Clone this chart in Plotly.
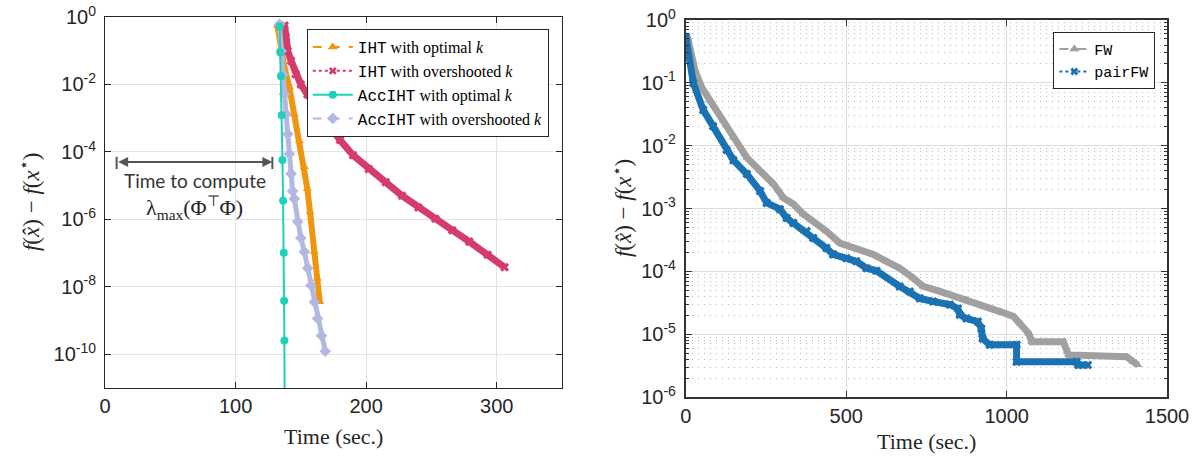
import plotly.graph_objects as go

# ---------------- data ----------------
# Left panel: time (sec.) and log10 of f(x_hat) - f(x*)
iht_opt_time = [132.0, 134.9, 137.4, 141.2, 145.0, 148.9, 152.7, 155.0, 157.0, 160.3, 162.6, 164.5]
iht_opt_log10 = [-0.25, -0.90, -1.49, -2.08, -2.88, -3.68, -4.45, -5.10, -5.78, -6.96, -7.76, -8.45]

iht_over_time = [137.5, 138.5, 140.0, 142.5, 146.0, 150.0, 155.0, 160.0, 166.0, 173.0, 180.0,
                 190.0, 202.0, 215.0, 227.5, 240.0, 253.0, 266.0, 279.0, 293.0, 306.0]
iht_over_log10 = [-0.25, -0.60, -1.00, -1.30, -1.70, -2.00, -2.30, -2.58, -2.95, -3.27, -3.65,
                  -4.10, -4.51, -4.90, -5.30, -5.65, -5.98, -6.32, -6.66, -7.05, -7.42]

acc_opt_time = [133.8, 134.3, 134.8, 135.3, 135.9, 136.4, 136.9, 137.2, 137.4, 137.6]
acc_opt_log10 = [-0.28, -1.05, -1.76, -2.91, -4.24, -5.45, -6.99, -8.41, -9.59, -12.0]

acc_over_time = [133.6, 134.9, 136.1, 137.4, 138.7, 140.0, 141.2, 142.5, 143.7, 145.0,
                 147.6, 150.0, 152.7, 155.3, 157.8, 160.3, 162.8, 165.8, 168.7]
acc_over_log10 = [-0.22, -1.01, -1.70, -2.29, -2.88, -3.47, -4.06, -4.65, -5.16, -5.39,
                  -6.07, -6.55, -6.96, -7.45, -7.96, -8.45, -8.94, -9.45, -9.91]

# "Time to compute lambda_max" interval (sec.)
lam_interval = [8.9, 128.2]

# Right panel
fw_time = [0, 6, 28, 49, 75, 117, 148, 190, 231, 273, 304, 335, 366, 397, 438, 480, 521, 584,
           625, 667, 709, 740, 792, 875, 917, 979, 1022, 1044, 1069, 1078, 1177, 1189, 1193,
           1374, 1394, 1409]
fw_log10 = [-0.25, -0.29, -0.80, -1.07, -1.28, -1.60, -1.87, -2.19, -2.40, -2.61, -2.83, -2.93,
            -3.09, -3.20, -3.36, -3.55, -3.63, -3.73, -3.84, -3.95, -4.11, -4.24, -4.32, -4.45,
            -4.53, -4.64, -4.72, -4.83, -4.99, -5.12, -5.12, -5.28, -5.33, -5.36, -5.44, -5.49]

pairfw_time = [0, 23, 54, 85, 127, 148, 190, 231, 252, 293, 314, 335, 376, 397, 438, 459, 500,
               531, 563, 594, 667, 698, 729, 771, 823, 848, 854, 875, 910, 921, 925, 947, 1031,
               1031, 1218, 1223, 1253]
pairfw_log10 = [-0.27, -1.00, -1.43, -1.69, -2.07, -2.23, -2.45, -2.72, -2.91, -3.01, -3.15,
                -3.23, -3.36, -3.47, -3.63, -3.73, -3.79, -3.84, -3.95, -3.99, -4.24, -4.32,
                -4.43, -4.48, -4.53, -4.59, -4.69, -4.75, -4.80, -4.91, -5.07, -5.17, -5.17,
                -5.44, -5.44, -5.49, -5.49]

left_tick_exp = [0, -2, -4, -6, -8, -10]
right_tick_exp = [0, -1, -2, -3, -4, -5, -6]
left_xticks = [0, 100, 200, 300]
right_xticks = [0, 500, 1000, 1500]

# ---------------- styles ----------------
C_ORANGE = "#F0960E"
C_CRIMSON = "#D43C6C"
C_TEAL = "#1FD1BA"
C_LAV = "#B3B8E2"
C_GRAY = "#A0A0A0"
C_BLUE = "#1A72B2"
C_ARROW = "#555555"

SERIF = "Liberation Serif"
SANS = "Liberation Sans"
MONO = "Liberation Mono"


def p10(vals):
    return [10 ** v for v in vals]


def mono(s):
    return "<span style=\"font-family:%s\">%s</span>" % (MONO, s)


fig = go.Figure()

# ---- left panel data bands ----
fig.add_trace(go.Scatter(x=iht_opt_time, y=p10(iht_opt_log10), mode="lines+markers",
                         line=dict(color=C_ORANGE, width=6),
                         marker=dict(symbol="triangle-up", size=8, color=C_ORANGE),
                         showlegend=False, xaxis="x", yaxis="y"))
fig.add_trace(go.Scatter(x=iht_over_time, y=p10(iht_over_log10), mode="lines+markers",
                         line=dict(color=C_CRIMSON, width=7),
                         marker=dict(symbol="x", size=8, color=C_CRIMSON),
                         showlegend=False, xaxis="x", yaxis="y"))
fig.add_trace(go.Scatter(x=acc_over_time, y=p10(acc_over_log10), mode="lines+markers",
                         line=dict(color=C_LAV, width=5),
                         marker=dict(symbol="diamond", size=9, color=C_LAV),
                         showlegend=False, xaxis="x", yaxis="y"))
fig.add_trace(go.Scatter(x=acc_opt_time, y=p10(acc_opt_log10), mode="lines+markers",
                         line=dict(color=C_TEAL, width=2),
                         marker=dict(symbol="circle", size=8, color=C_TEAL),
                         showlegend=False, xaxis="x", yaxis="y", cliponaxis=True))

# ---- left legend entries ----
fig.add_trace(go.Scatter(x=[None], y=[None], mode="lines+markers",
                         name=mono("IHT") + " with optimal <i>k</i>",
                         line=dict(color=C_ORANGE, width=2, dash="dash"),
                         marker=dict(symbol="triangle-up", size=9, color=C_ORANGE),
                         legend="legend", xaxis="x", yaxis="y"))
fig.add_trace(go.Scatter(x=[None], y=[None], mode="lines+markers",
                         name=mono("IHT") + " with overshooted <i>k</i>",
                         line=dict(color=C_CRIMSON, width=2, dash="dot"),
                         marker=dict(symbol="x", size=7, color=C_CRIMSON),
                         legend="legend", xaxis="x", yaxis="y"))
fig.add_trace(go.Scatter(x=[None], y=[None], mode="lines+markers",
                         name=mono("AccIHT") + " with optimal <i>k</i>",
                         line=dict(color=C_TEAL, width=2),
                         marker=dict(symbol="circle", size=8, color=C_TEAL),
                         legend="legend", xaxis="x", yaxis="y"))
fig.add_trace(go.Scatter(x=[None], y=[None], mode="lines+markers",
                         name=mono("AccIHT") + " with overshooted <i>k</i>",
                         line=dict(color=C_LAV, width=2, dash="dash"),
                         marker=dict(symbol="diamond", size=9, color=C_LAV),
                         legend="legend", xaxis="x", yaxis="y"))

# ---- right panel data bands ----
fig.add_trace(go.Scatter(x=fw_time, y=p10(fw_log10), mode="lines+markers",
                         line=dict(color=C_GRAY, width=7),
                         marker=dict(symbol="triangle-up", size=8, color=C_GRAY),
                         showlegend=False, xaxis="x2", yaxis="y2"))
fig.add_trace(go.Scatter(x=pairfw_time, y=p10(pairfw_log10), mode="lines+markers",
                         line=dict(color=C_BLUE, width=7),
                         marker=dict(symbol="x", size=8, color=C_BLUE),
                         showlegend=False, xaxis="x2", yaxis="y2"))
fig.add_trace(go.Scatter(x=[None], y=[None], mode="lines+markers", name=mono("FW"),
                         line=dict(color=C_GRAY, width=2, dash="dashdot"),
                         marker=dict(symbol="triangle-up", size=9, color=C_GRAY),
                         legend="legend2", xaxis="x2", yaxis="y2"))
fig.add_trace(go.Scatter(x=[None], y=[None], mode="lines+markers", name=mono("pairFW"),
                         line=dict(color=C_BLUE, width=2, dash="dot"),
                         marker=dict(symbol="x", size=7, color=C_BLUE),
                         legend="legend2", xaxis="x2", yaxis="y2"))

tick_font = dict(family=SANS, size=20, color="#262626")

minor_vals = []
for e in range(-6, 0):
    for m in range(2, 10):
        minor_vals.append(m * 10 ** e)

fig.update_layout(
    width=1199, height=460,
    margin=dict(l=105, r=32, t=17, b=63, autoexpand=False),
    paper_bgcolor="white", plot_bgcolor="white",
    xaxis=dict(domain=[0, 0.4303], range=[0, 350], tickvals=left_xticks,
               showgrid=True, gridcolor="#E3E3E3", gridwidth=1,
               showline=True, linecolor="#262626", linewidth=1, mirror="ticks",
               ticks="inside", ticklen=6, tickcolor="#262626", automargin=False,
               tickfont=tick_font, zeroline=False, anchor="y"),
    yaxis=dict(domain=[0.0237, 1.0], type="log", range=[-11, 0],
               tickvals=p10(left_tick_exp),
               ticktext=["10<sup>%d</sup>" % e for e in left_tick_exp],
               showgrid=True, gridcolor="#E3E3E3", gridwidth=1,
               showline=True, linecolor="#262626", linewidth=1, mirror="ticks",
               ticks="inside", ticklen=6, tickcolor="#262626", automargin=False,
               tickfont=tick_font, zeroline=False, anchor="x", ticklabelstandoff=4),
    xaxis2=dict(domain=[0.547, 1.0], range=[0, 1500], tickvals=right_xticks,
                showgrid=True, gridcolor="#DCDCDC", gridwidth=1,
                showline=True, linecolor="#333333", linewidth=2, mirror="ticks",
                ticks="inside", ticklen=6, tickcolor="#333333", automargin=False,
                tickfont=tick_font, zeroline=False, anchor="y2"),
    yaxis2=dict(domain=[0, 0.992], type="log", range=[-6, 0],
                tickvals=p10(right_tick_exp),
                ticktext=["10<sup>%d</sup>" % e for e in right_tick_exp],
                showgrid=True, gridcolor="#DCDCDC", gridwidth=1,
                showline=True, linecolor="#333333", linewidth=2, mirror="ticks",
                ticks="inside", ticklen=6, tickcolor="#333333", automargin=False,
                minor=dict(tickvals=minor_vals, ticks="inside", ticklen=3,
                           tickcolor="#333333", showgrid=True, griddash="1px,5px",
                           gridcolor="#BDBDBD", gridwidth=1),
                tickfont=tick_font, zeroline=False, anchor="x2", ticklabelstandoff=4),
    legend=dict(x=0.190, y=0.968, xanchor="left", yanchor="top",
                bgcolor="white", bordercolor="#262626", borderwidth=1,
                font=dict(family=SERIF, size=16, color="black"),
                itemwidth=40, tracegroupgap=0, traceorder="normal"),
    legend2=dict(x=0.893, y=0.961, xanchor="left", yanchor="top",
                 bgcolor="white", bordercolor="#262626", borderwidth=1,
                 font=dict(family=SERIF, size=15, color="black"),
                 itemwidth=30, traceorder="normal"),
)

# small end bars of the double arrow
for xv in lam_interval:
    fig.add_shape(type="line", xref="x", yref="paper", x0=xv, x1=xv, y0=0.600, y1=0.632,
                  line=dict(color=C_ARROW, width=2))

ytitle = "<i>f</i>(<i>x̂</i>) − <i>f</i>(<i>x</i><sup>⋆</sup>)"
annos = [
    dict(text=ytitle, xref="paper", yref="paper", x=-0.0716, y=0.513, textangle=-90,
         xanchor="center", yanchor="middle",
         showarrow=False, font=dict(family=SERIF, size=23, color="#262626")),
    dict(text=ytitle, xref="paper", yref="paper", x=0.4868, y=0.497, textangle=-90,
         xanchor="center", yanchor="middle",
         showarrow=False, font=dict(family=SERIF, size=23, color="#262626")),
    dict(text="Time (sec.)", xref="paper", yref="paper", x=0.2152, y=-0.105,
         xanchor="center", yanchor="middle",
         showarrow=False, font=dict(family=SERIF, size=22, color="#262626")),
    dict(text="Time (sec.)", xref="paper", yref="paper", x=0.7735, y=-0.118,
         xanchor="center", yanchor="middle",
         showarrow=False, font=dict(family=SERIF, size=22, color="#262626")),
    # double arrow: time to compute lambda_max
    dict(x=lam_interval[1], y=-4.3, ax=lam_interval[0], ay=-4.3, xref="x", yref="y",
         axref="x", ayref="y", text="", showarrow=True, arrowside="end+start",
         arrowhead=2, arrowsize=1, arrowwidth=2, arrowcolor=C_ARROW),
    dict(text="Time to compute", x=68.7, y=-4.86, xref="x", yref="y", showarrow=False,
         font=dict(family="Lato", size=19, color="#333333")),
    dict(text="λ<sub>max</sub>(Φ<sup>⊤</sup>Φ)", x=68.7, y=-5.66, xref="x", yref="y",
         showarrow=False, font=dict(family=SERIF, size=22, color="#262626")),
]
fig.update_layout(annotations=annos)

fig.write_html("out.html", config={"displayModeBar": False},
               post_script="document.body.style.margin='0';document.body.style.padding='0';")
